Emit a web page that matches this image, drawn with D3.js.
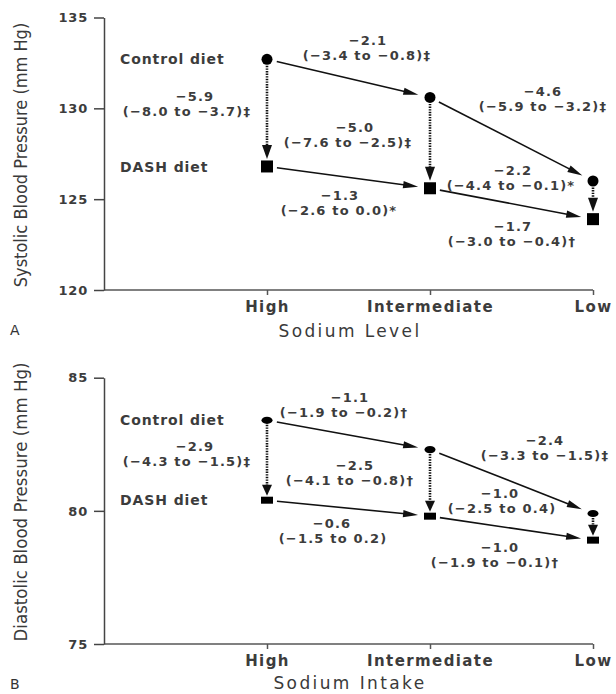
<!DOCTYPE html>
<html>
<head>
<meta charset="utf-8">
<script src="https://cdn.jsdelivr.net/npm/d3@7/dist/d3.min.js"></script>
<style>
  html, body { margin: 0; padding: 0; background: #fff; }
  svg { display: block; }
  .lbl { font-family: "DejaVu Sans", sans-serif; font-weight: bold; fill: #3c3c3c; }
</style>
</head>
<body>
<svg id="chart" width="616" height="694"></svg>
<script>
// Sodium levels (x categories)
const sodiumLevels = ["High", "Intermediate", "Low"];

// Panel A: systolic blood pressure, mm Hg
const sbpTicks = [120, 125, 130, 135];
const sbpControl = [132.7, 130.6, 126.0];
const sbpDash = [126.8, 125.6, 123.9];
const sbpDietEffects = [
  ["\u22125.9", "(\u22128.0 to \u22123.7)\u2021"],
  ["\u22125.0", "(\u22127.6 to \u22122.5)\u2021"],
  ["\u22122.2", "(\u22124.4 to \u22120.1)*"]
];
const sbpControlSodiumEffects = [
  ["\u22122.1", "(\u22123.4 to \u22120.8)\u2021"],
  ["\u22124.6", "(\u22125.9 to \u22123.2)\u2021"]
];
const sbpDashSodiumEffects = [
  ["\u22121.3", "(\u22122.6 to 0.0)*"],
  ["\u22121.7", "(\u22123.0 to \u22120.4)\u2020"]
];

// Panel B: diastolic blood pressure, mm Hg
const dbpTicks = [75, 80, 85];
const dbpControl = [83.4, 82.3, 79.9];
const dbpDash = [80.4, 79.8, 78.9];
const dbpDietEffects = [
  ["\u22122.9", "(\u22124.3 to \u22121.5)\u2021"],
  ["\u22122.5", "(\u22124.1 to \u22120.8)\u2020"],
  ["\u22121.0", "(\u22122.5 to 0.4)"]
];
const dbpControlSodiumEffects = [
  ["\u22121.1", "(\u22121.9 to \u22120.2)\u2020"],
  ["\u22122.4", "(\u22123.3 to \u22121.5)\u2021"]
];
const dbpDashSodiumEffects = [
  ["\u22120.6", "(\u22121.5 to 0.2)"],
  ["\u22121.0", "(\u22121.9 to \u22120.1)\u2020"]
];

const svg = d3.select("#chart");

// Panel layout
const panels = [
  {
    letter: "A", yTitle: "Systolic Blood Pressure (mm Hg)", xTitle: "Sodium Level",
    ticks: sbpTicks, control: sbpControl, dash: sbpDash,
    diet: sbpDietEffects, ctrlNa: sbpControlSodiumEffects, dashNa: sbpDashSodiumEffects,
    yRange: [290, 17.5], titleY: 155, titleSize: 18, xTitleY: 331, letterY: 330,
    marker: { rx: 5.5, ry: 5.5, w: 12, h: 12 }, vHead: 14, vStart: 6.5, vEnd: 7.5,
    // label offsets [dx1, dy1, dx2] relative to the arrow's anchor point
    dietOff: [[-72, 37, -80], [-75, 30, -82], [-80, -11, -82]],
    ctrlOff: [[101, -19, 100], [113, -6, 113]],
    dashOff: [[73, 29, 72], [83, 38, 82]]
  },
  {
    letter: "B", yTitle: "Diastolic Blood Pressure (mm Hg)", xTitle: "Sodium Intake",
    ticks: dbpTicks, control: dbpControl, dash: dbpDash,
    diet: dbpDietEffects, ctrlNa: dbpControlSodiumEffects, dashNa: dbpDashSodiumEffects,
    yRange: [644, 377.7], titleY: 502, titleSize: 18.5, xTitleY: 683, letterY: 684,
    marker: { rx: 5.5, ry: 3.6, w: 12, h: 7 }, vHead: 11, vStart: 4.5, vEnd: 4.5,
    dietOff: [[-72, 26, -80], [-75, 16, -80], [-93, -20, -91]],
    ctrlOff: [[83, -23, 77], [115, -9, 115]],
    dashOff: [[65, 23, 66], [70, 31, 65]]
  }
];

const axisX = 104;
const x = d3.scalePoint().domain(sodiumLevels).range([267, 593]);

function drawArrow(g, p0, p1, o) {
  const dx = p1[0] - p0[0], dy = p1[1] - p0[1];
  const len = Math.hypot(dx, dy);
  const ux = dx / len, uy = dy / len;
  const nx = -uy, ny = ux;
  const s = [p0[0] + ux * o.g0, p0[1] + uy * o.g0];
  const tip = [p1[0] - ux * o.g1, p1[1] - uy * o.g1];
  const base = [tip[0] - ux * o.head, tip[1] - uy * o.head];
  g.append("line")
    .attr("x1", s[0]).attr("y1", s[1])
    .attr("x2", base[0] + ux * 2).attr("y2", base[1] + uy * 2)
    .attr("stroke", "#111").attr("stroke-width", o.sw)
    .attr("stroke-dasharray", o.dash || null);
  g.append("path")
    .attr("d", d3.line()([tip,
      [base[0] + nx * o.hw, base[1] + ny * o.hw],
      [base[0] - nx * o.hw, base[1] - ny * o.hw]]) + "Z")
    .attr("fill", "#111");
}

function twoLineLabel(g, ax, ay, off, lines) {
  g.append("text").attr("class", "lbl")
    .attr("x", ax + off[0]).attr("y", ay + off[1]).attr("dy", "0.36em")
    .attr("text-anchor", "middle").attr("font-size", 13).attr("letter-spacing", 1.2)
    .text(lines[0]);
  g.append("text").attr("class", "lbl")
    .attr("x", ax + off[2]).attr("y", ay + off[1] + 15).attr("dy", "0.36em")
    .attr("text-anchor", "middle").attr("font-size", 13).attr("letter-spacing", 1.2)
    .text(lines[1]);
}

panels.forEach(p => {
  const g = svg.append("g");
  const y = d3.scaleLinear().domain(d3.extent(p.ticks)).range(p.yRange);
  const y0 = p.yRange[0];

  // x baseline and category ticks
  g.append("line")
    .attr("x1", axisX).attr("x2", x("Low")).attr("y1", y0).attr("y2", y0)
    .attr("stroke", "#808080").attr("stroke-width", 2);
  const xAxis = g.append("g").attr("transform", `translate(0,${y0})`)
    .call(d3.axisBottom(x).tickSize(5).tickPadding(6));
  xAxis.select(".domain").remove();
  xAxis.selectAll(".tick line").attr("stroke", "#555").attr("stroke-width", 1.5);
  xAxis.selectAll(".tick text")
    .attr("font-family", "DejaVu Sans, sans-serif").attr("font-weight", "bold")
    .attr("font-size", 15).attr("letter-spacing", 1.4).attr("fill", "#3c3c3c");

  // y axis
  const yAxis = g.append("g").attr("transform", `translate(${axisX},0)`)
    .call(d3.axisLeft(y).tickValues(p.ticks).tickSize(10).tickSizeOuter(0).tickPadding(6));
  yAxis.select(".domain").attr("stroke", "#444").attr("stroke-width", 1.5);
  yAxis.selectAll(".tick line").attr("stroke", "#444").attr("stroke-width", 1.5);
  yAxis.selectAll(".tick text")
    .attr("font-family", "DejaVu Sans, sans-serif").attr("font-weight", "bold")
    .attr("font-size", 13).attr("letter-spacing", 0.8).attr("fill", "#3c3c3c");

  // axis titles and panel letter
  g.append("text")
    .attr("transform", `translate(21,${p.titleY}) rotate(-90)`)
    .attr("text-anchor", "middle").attr("dy", "0.35em")
    .attr("font-family", "Liberation Sans Narrow, DejaVu Sans Condensed, sans-serif")
    .attr("font-size", p.titleSize).attr("fill", "#3a3a3a")
    .text(p.yTitle);
  g.append("text")
    .attr("x", 350).attr("y", p.xTitleY).attr("dy", "0.35em")
    .attr("text-anchor", "middle")
    .attr("font-family", "DejaVu Sans, sans-serif").attr("font-size", 17)
    .attr("letter-spacing", 2.4).attr("fill", "#3a3a3a")
    .text(p.xTitle);
  g.append("text")
    .attr("x", 10).attr("y", p.letterY).attr("dy", "0.35em")
    .attr("font-family", "DejaVu Sans, sans-serif").attr("font-size", 14)
    .attr("fill", "#333")
    .text(p.letter);

  const ctrlPts = sodiumLevels.map((s, i) => [x(s), y(p.control[i])]);
  const dashPts = sodiumLevels.map((s, i) => [x(s), y(p.dash[i])]);

  // series names
  g.append("text").attr("class", "lbl")
    .attr("x", x("High") - 147).attr("y", ctrlPts[0][1]).attr("dy", "0.36em")
    .attr("font-size", 14).attr("letter-spacing", 0.9).text("Control diet");
  g.append("text").attr("class", "lbl")
    .attr("x", x("High") - 147).attr("y", dashPts[0][1]).attr("dy", "0.36em")
    .attr("font-size", 14).attr("letter-spacing", 0.9).text("DASH diet");

  // sodium-reduction arrows within each diet
  for (let i = 0; i < 2; i++) {
    drawArrow(g, ctrlPts[i], ctrlPts[i + 1], { g0: 10, g1: 12, head: 15, hw: 3.6, sw: 1.6 });
    drawArrow(g, dashPts[i], dashPts[i + 1], { g0: 10, g1: 12, head: 15, hw: 3.6, sw: 1.6 });
    twoLineLabel(g, ctrlPts[i][0], ctrlPts[i][1], p.ctrlOff[i], p.ctrlNa[i]);
    twoLineLabel(g, dashPts[i][0], dashPts[i][1], p.dashOff[i], p.dashNa[i]);
  }

  // diet-effect dotted arrows at each sodium level
  for (let i = 0; i < 3; i++) {
    const a = [ctrlPts[i][0], ctrlPts[i][1]];
    const b = [dashPts[i][0], dashPts[i][1]];
    drawArrow(g, a, b, { g0: p.vStart, g1: p.vEnd, head: p.vHead, hw: 5, sw: 2.6, dash: "1.4,1.2" });
    twoLineLabel(g, ctrlPts[i][0], ctrlPts[i][1], p.dietOff[i], p.diet[i]);
  }

  // markers
  g.selectAll(".ctrl").data(ctrlPts).join("ellipse")
    .attr("cx", d => d[0]).attr("cy", d => d[1])
    .attr("rx", p.marker.rx).attr("ry", p.marker.ry).attr("fill", "#000");
  g.selectAll(".dash").data(dashPts).join("rect")
    .attr("x", d => d[0] - p.marker.w / 2).attr("y", d => d[1] - p.marker.h / 2)
    .attr("width", p.marker.w).attr("height", p.marker.h).attr("fill", "#000");
});
</script>
</body>
</html>
